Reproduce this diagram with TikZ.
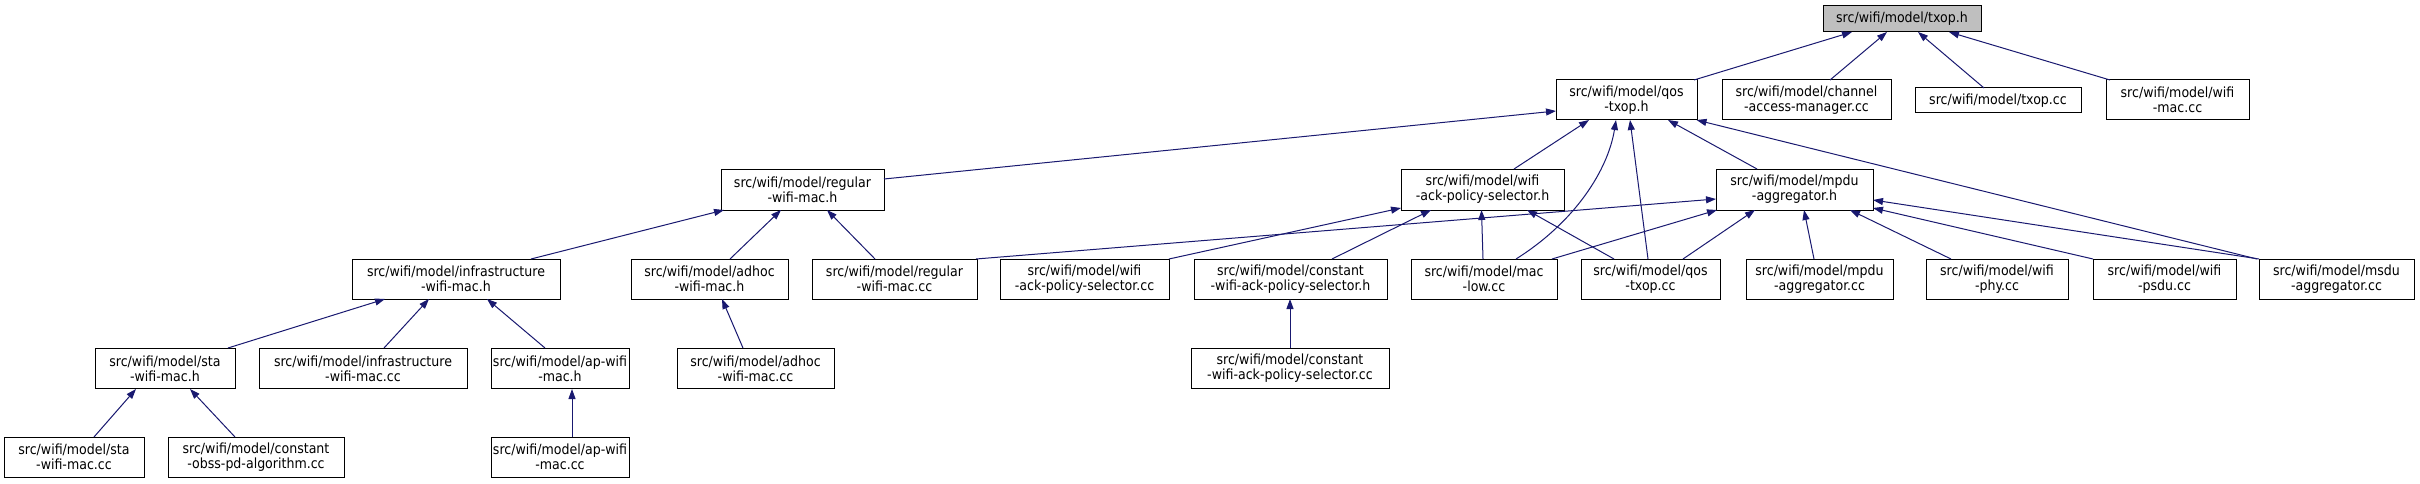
\documentclass[tikz,border=0pt]{standalone}
\usepackage{fontspec}
\setmainfont{DejaVu Sans Condensed}
\usetikzlibrary{arrows.meta}
\definecolor{edgec}{HTML}{191970}
\definecolor{topfill}{HTML}{BFBFBF}
\begin{document}
\begin{tikzpicture}[x=1pt,y=-1pt,
  box/.style={draw=black, line width=1pt, fill=white, inner sep=0pt, align=center,
    font=\fontsize{14}{15}\selectfont, minimum height=40pt},
  edge/.style={draw=edgec, line width=1pt, -{Triangle[length=10pt,width=7pt]}}]
\useasboundingbox (0,0) rectangle (2420,484);
\fill[white] (0,0) rectangle (2420,484);
% row 0
\node[box, fill=topfill, minimum width=158pt, minimum height=26pt] (txop) at (1902,19) {src/wifi/model/txop.h};
% row 1
\node[box, minimum width=141pt] (qos) at (1626.5,100) {src/wifi/model/qos\\-txop.h};
\node[box, minimum width=169pt] (cam) at (1806.5,100) {src/wifi/model/channel\\-access-manager.cc};
\node[box, minimum width=166pt, minimum height=25pt] (txopcc) at (1998,100.5) {src/wifi/model/txop.cc};
\node[box, minimum width=143pt] (wifimac) at (2177.5,100) {src/wifi/model/wifi\\-mac.cc};
% row 2
\node[box, minimum width=163pt, minimum height=41pt] (regh) at (802.5,189.5) {src/wifi/model/regular\\-wifi-mac.h};
\node[box, minimum width=163pt, minimum height=41pt] (ackh) at (1482.5,189.5) {src/wifi/model/wifi\\-ack-policy-selector.h};
\node[box, minimum width=157pt, minimum height=41pt] (mpduh) at (1794.5,189.5) {src/wifi/model/mpdu\\-aggregator.h};
% row 3
\node[box, minimum width=208pt] (infrah) at (456,279) {src/wifi/model/infrastructure\\-wifi-mac.h};
\node[box, minimum width=157pt] (adhoch) at (709.5,279) {src/wifi/model/adhoc\\-wifi-mac.h};
\node[box, minimum width=165pt] (regcc) at (894.5,279) {src/wifi/model/regular\\-wifi-mac.cc};
\node[box, minimum width=169pt] (ackcc) at (1084.5,279) {src/wifi/model/wifi\\-ack-policy-selector.cc};
\node[box, minimum width=193pt] (cackh) at (1290.5,279) {src/wifi/model/constant\\-wifi-ack-policy-selector.h};
\node[box, minimum width=146pt] (maclow) at (1484,279) {src/wifi/model/mac\\-low.cc};
\node[box, minimum width=139pt] (qoscc) at (1650.5,279) {src/wifi/model/qos\\-txop.cc};
\node[box, minimum width=147pt] (mpducc) at (1819.5,279) {src/wifi/model/mpdu\\-aggregator.cc};
\node[box, minimum width=142pt] (phy) at (1997,279) {src/wifi/model/wifi\\-phy.cc};
\node[box, minimum width=143pt] (psdu) at (2164.5,279) {src/wifi/model/wifi\\-psdu.cc};
\node[box, minimum width=155pt] (msdu) at (2336.5,279) {src/wifi/model/msdu\\-aggregator.cc};
% row 4
\node[box, minimum width=140pt] (stah) at (165,368.5) {src/wifi/model/sta\\-wifi-mac.h};
\node[box, minimum width=208pt] (infracc) at (363,368.5) {src/wifi/model/infrastructure\\-wifi-mac.cc};
\node[box, minimum width=138pt] (aph) at (560,368.5) {src/wifi/model/ap-wifi\\-mac.h};
\node[box, minimum width=157pt] (adhoccc) at (755.5,368.5) {src/wifi/model/adhoc\\-wifi-mac.cc};
\node[box, minimum width=198pt] (cackcc) at (1290,368.5) {src/wifi/model/constant\\-wifi-ack-policy-selector.cc};
% row 5
\node[box, minimum width=140pt] (stacc) at (74,457) {src/wifi/model/sta\\-wifi-mac.cc};
\node[box, minimum width=176pt] (obss) at (256,457) {src/wifi/model/constant\\-obss-pd-algorithm.cc};
\node[box, minimum width=138pt] (apcc) at (560,457) {src/wifi/model/ap-wifi\\-mac.cc};
% edges
\draw[edge] ([shift={(67.5,-20)}]qos.center) -- ([shift={(-50,13)}]txop.center);
\draw[edge] ([shift={(23.5,-20)}]cam.center) -- ([shift={(-15,13)}]txop.center);
\draw[edge] ([shift={(-14,-12.5)}]txopcc.center) -- ([shift={(16,13)}]txop.center);
\draw[edge] ([shift={(-67.5,-20)}]wifimac.center) -- ([shift={(47,13)}]txop.center);
\draw[edge] ([shift={(81.5,-10.5)}]regh.center) -- ([shift={(-70.5,11)}]qos.center);
\draw[edge] ([shift={(31.5,-20.5)}]ackh.center) -- ([shift={(-37.5,20)}]qos.center);
\draw[edge] ([shift={(32,-20)}]maclow.center) .. controls (1575,222) and (1608,170) .. ([shift={(-10.5,20)}]qos.center);
\draw[edge] ([shift={(-2.5,-20)}]qoscc.center) -- ([shift={(3.5,20)}]qos.center);
\draw[edge] ([shift={(-37.5,-20.5)}]mpduh.center) -- ([shift={(41.5,20)}]qos.center);
\draw[edge] ([shift={(-79.5,-20)}]msdu.center) -- ([shift={(70,20)}]qos.center);
\draw[edge] ([shift={(75,-20)}]infrah.center) -- ([shift={(-78.5,20.5)}]regh.center);
\draw[edge] ([shift={(20.5,-20)}]adhoch.center) -- ([shift={(-21.5,20.5)}]regh.center);
\draw[edge] ([shift={(-19.5,-20)}]regcc.center) -- ([shift={(24.5,20.5)}]regh.center);
\draw[edge] ([shift={(84.5,-20)}]ackcc.center) -- ([shift={(-81.5,18.5)}]ackh.center);
\draw[edge] ([shift={(41.5,-20)}]cackh.center) -- ([shift={(-51.5,20.5)}]ackh.center);
\draw[edge] ([shift={(-1,-20)}]maclow.center) -- ([shift={(-1,20.5)}]ackh.center);
\draw[edge] ([shift={(-36.5,-20)}]qoscc.center) -- ([shift={(44.5,20.5)}]ackh.center);
\draw[edge] ([shift={(81.5,-20)}]regcc.center) -- ([shift={(-78.5,9.5)}]mpduh.center);
\draw[edge] ([shift={(68,-20)}]maclow.center) -- ([shift={(-77.5,20.5)}]mpduh.center);
\draw[edge] ([shift={(32.5,-20)}]qoscc.center) -- ([shift={(-39.5,20.5)}]mpduh.center);
\draw[edge] ([shift={(-5.5,-20)}]mpducc.center) -- ([shift={(9.5,20.5)}]mpduh.center);
\draw[edge] ([shift={(-46,-20)}]phy.center) -- ([shift={(55.5,20.5)}]mpduh.center);
\draw[edge] ([shift={(-71.5,-20)}]psdu.center) -- ([shift={(78.5,18.5)}]mpduh.center);
\draw[edge] ([shift={(-77.5,-20)}]msdu.center) -- ([shift={(78.5,10.5)}]mpduh.center);
\draw[edge] ([shift={(0,-20.5)}]cackcc.center) -- ([shift={(-0.5,20)}]cackh.center);
\draw[edge] ([shift={(63,-20.5)}]stah.center) -- ([shift={(-71,20)}]infrah.center);
\draw[edge] ([shift={(21,-20.5)}]infracc.center) -- ([shift={(-27,20)}]infrah.center);
\draw[edge] ([shift={(-15,-20.5)}]aph.center) -- ([shift={(31,20)}]infrah.center);
\draw[edge] ([shift={(-12.5,-20.5)}]adhoccc.center) -- ([shift={(12.5,20)}]adhoch.center);
\draw[edge] ([shift={(20,-20)}]stacc.center) -- ([shift={(-29,20.5)}]stah.center);
\draw[edge] ([shift={(-21,-20)}]obss.center) -- ([shift={(25,20.5)}]stah.center);
\draw[edge] ([shift={(12,-20)}]apcc.center) -- ([shift={(12,20.5)}]aph.center);
\end{tikzpicture}
\end{document}
